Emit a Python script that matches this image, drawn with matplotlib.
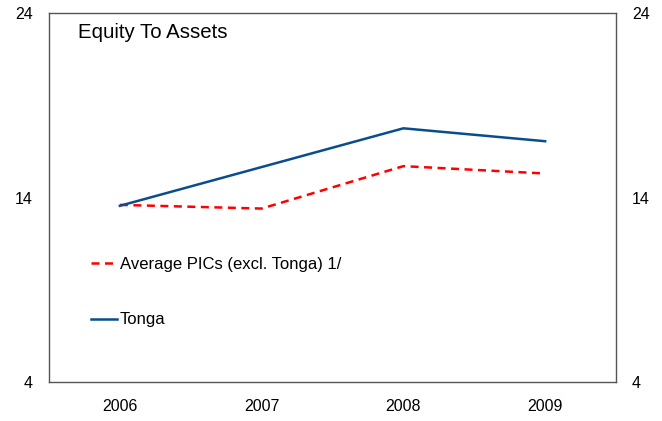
import matplotlib.pyplot as plt

plt.rcParams['font.family'] = ['Liberation Sans', 'DejaVu Sans']

YEARS = ["2006", "2007", "2008", "2009"]
AVG_PICS = [13.6, 13.4, 15.7, 15.3]
TONGA = [13.55, 15.65, 17.75, 17.05]

C_TONGA = "#0a4d8c"
C_AVG = "#ff0000"

fig = plt.figure(figsize=(6.62, 4.21), dpi=100)
ax = fig.add_axes([49/662, 1 - 382/421, 567/662, 369/421])

x = range(len(YEARS))
ax.plot(x, AVG_PICS, color=C_AVG, lw=1.8, ls=(0, (3.2, 2.2)),
        label="Average PICs (excl. Tonga) 1/")
ax.plot(x, TONGA, color=C_TONGA, lw=1.8, label="Tonga")

ax.set_xlim(-0.5, 3.5)
ax.set_ylim(4, 24)
ax.set_xticks(list(x))
ax.set_xticklabels(YEARS)
ax.set_yticks([4, 14, 24])
ax.tick_params(axis="both", length=0, labelsize=11.5)
ax.tick_params(axis="x", pad=12)
ax.tick_params(axis="y", pad=11.5, labelright=True)
for s in ax.spines.values():
    s.set_color("#555555")
    s.set_linewidth(1.0)

ax.text((78 - 49)/567, 1 - 20/369, "Equity To Assets", transform=ax.transAxes,
        fontsize=14.7, va="center", ha="left")

ax.legend(loc="center left", bbox_to_anchor=(0.06, (382 - 292)/369), frameon=False,
          fontsize=12, handlelength=1.55, handletextpad=0.15, labelspacing=2.45,
          borderpad=0)

fig.savefig("out.png", dpi=100)
